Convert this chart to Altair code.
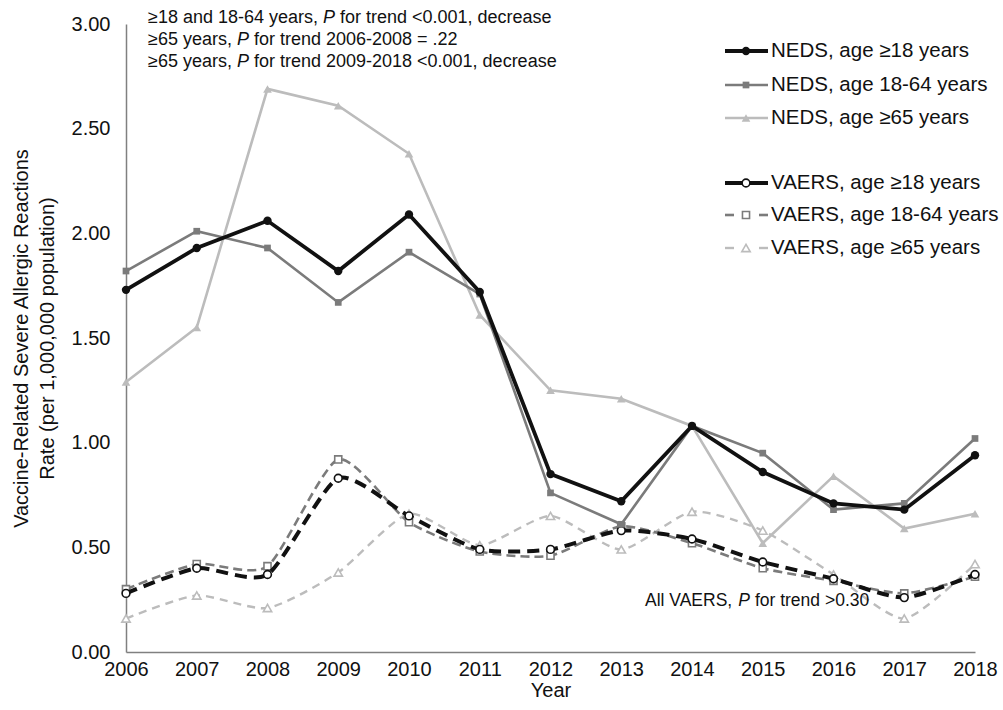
import altair as alt
import pandas as pd

# ---- data: rate per 1,000,000 population ----
years = list(range(2006, 2019))
neds_18plus = [1.73, 1.93, 2.06, 1.82, 2.09, 1.72, 0.85, 0.72, 1.08, 0.86, 0.71, 0.68, 0.94]
neds_18_64 = [1.82, 2.01, 1.93, 1.67, 1.91, 1.71, 0.76, 0.61, 1.08, 0.95, 0.68, 0.71, 1.02]
neds_65plus = [1.29, 1.55, 2.69, 2.61, 2.38, 1.61, 1.25, 1.21, 1.08, 0.52, 0.84, 0.59, 0.66]
vaers_18plus = [0.28, 0.40, 0.37, 0.83, 0.65, 0.49, 0.49, 0.58, 0.54, 0.43, 0.35, 0.26, 0.37]
vaers_18_64 = [0.30, 0.42, 0.41, 0.92, 0.62, 0.48, 0.46, 0.60, 0.52, 0.40, 0.34, 0.28, 0.36]
vaers_65plus = [0.16, 0.27, 0.21, 0.38, 0.66, 0.51, 0.65, 0.49, 0.67, 0.58, 0.37, 0.16, 0.42]

y_ticks = [0.0, 0.5, 1.0, 1.5, 2.0, 2.5, 3.0]

series_labels = [
    "NEDS, age ≥18 years",
    "NEDS, age 18-64 years",
    "NEDS, age ≥65 years",
    "VAERS, age ≥18 years",
    "VAERS, age 18-64 years",
    "VAERS, age ≥65 years",
]
series_values = [neds_18plus, neds_18_64, neds_65plus, vaers_18plus, vaers_18_64, vaers_65plus]

FONT = "Liberation Sans"
BLACK = "#111111"
DARK = "#7b7b7b"
LIGHT = "#bcbcbc"

# line / marker style per series
styles = [
    dict(color=BLACK, width=3.8, dash=None, shape="circle", size=70, filled=True, smooth=False),
    dict(color=DARK, width=2.6, dash=None, shape="square", size=45, filled=True, smooth=False),
    dict(color=LIGHT, width=2.6, dash=None, shape="triangle-up", size=75, filled=True, smooth=False),
    dict(color=BLACK, width=4.0, dash=[12, 7], shape="circle", size=60, filled=False, smooth=True),
    dict(color=DARK, width=2.6, dash=[9, 5], shape="square", size=50, filled=False, smooth=True),
    dict(color=LIGHT, width=2.4, dash=[8, 6], shape="triangle-up", size=70, filled=False, smooth=True),
]

W, H = 849, 628
dummy = pd.DataFrame({"k": [0]})

x_enc = alt.X(
    "year:Q",
    scale=alt.Scale(domain=[2006, 2018], nice=False, zero=False),
    axis=alt.Axis(values=years, format="d", title="Year", labelPadding=7,
                  labelFlush=False, labelOverlap=False,
                  titleY=38, titleBaseline="middle"),
)
y_enc = alt.Y(
    "rate:Q",
    scale=alt.Scale(domain=[0, 3], nice=False),
    axis=alt.Axis(values=y_ticks, format=".2f",
                  title=["Vaccine-Related Severe Allergic Reactions", "Rate (per 1,000,000 population)"],
                  labelPadding=16, labelFlush=False, labelOverlap=False,
                  titleAngle=-90, titleX=-105, titleY=H / 2,
                  titleAlign="center", titleBaseline="middle", titleLineHeight=26),
)


def point_mark(st):
    if st["filled"]:
        return dict(shape=st["shape"], size=st["size"], filled=True, color=st["color"], opacity=1)
    return dict(shape=st["shape"], size=st["size"], filled=False, fill="white", fillOpacity=1,
                stroke=st["color"], strokeWidth=1.6, opacity=1)


layers = []
# draw VAERS first so NEDS lines sit on top
for idx in [5, 4, 3, 2, 1, 0]:
    st = styles[idx]
    df = pd.DataFrame({"year": years, "rate": series_values[idx], "series": series_labels[idx]})
    line_kw = dict(color=st["color"], strokeWidth=st["width"])
    if st["smooth"]:
        line_kw.update(interpolate="cardinal", tension=0.35)
    if st["dash"]:
        line_kw["strokeDash"] = st["dash"]
    layers.append(alt.Chart(df).mark_line(**line_kw).encode(x=x_enc, y=y_enc))
    layers.append(alt.Chart(df).mark_point(**point_mark(st)).encode(x=x_enc, y=y_enc))

# ---- legend (pixel positions inside plot area) ----
legend_rows_y = [27, 61, 94, 159, 191, 224]
LEG_X0, LEG_X1, LEG_MARK, LEG_TEXT = 599, 642, 620, 645
for i, (lab, st) in enumerate(zip(series_labels, styles)):
    yy = legend_rows_y[i]
    if st["dash"] and i != 3:
        pieces = [(LEG_X0, LEG_X0 + 9), (LEG_X1 - 9, LEG_X1)]
    else:
        pieces = [(LEG_X0, LEG_X1)]
    for a, b in pieces:
        layers.append(
            alt.Chart(dummy).mark_rule(color=st["color"], strokeWidth=st["width"]).encode(
                x=alt.value(a), x2=alt.value(b), y=alt.value(yy)
            )
        )
    layers.append(
        alt.Chart(dummy).mark_point(**point_mark(st)).encode(x=alt.value(LEG_MARK), y=alt.value(yy))
    )
    layers.append(
        alt.Chart(dummy).mark_text(text=lab, align="left", baseline="middle", font=FONT,
                                   fontSize=20.5, color=BLACK).encode(
            x=alt.value(LEG_TEXT), y=alt.value(yy)
        )
    )

# ---- annotations with italic P ----
ADV = {" ": 278, "≥": 549, "a": 556, "n": 556, "d": 556, "-": 333, "y": 500, "e": 556,
       "r": 333, "s": 500, ",": 278, "P": 667, "f": 278, "o": 556, "t": 278, "<": 584,
       ".": 278, "c": 500, "=": 584, "A": 667, "l": 222, "V": 667, "E": 667, "R": 722,
       "S": 667, ">": 584}


def text_width(s, size):
    return sum(ADV.get(ch, 556) for ch in s) * size / 1000.0


def rich_line(segments, x0, y0, size):
    out = []
    x = x0
    for txt, italic in segments:
        stripped = txt.lstrip(" ")
        lead = text_width(txt[: len(txt) - len(stripped)], size)
        if stripped.strip():
            out.append(
                alt.Chart(dummy).mark_text(
                    text=stripped.rstrip(" "), align="left", baseline="middle", font=FONT,
                    fontSize=size, fontStyle="italic" if italic else "normal", color=BLACK,
                ).encode(x=alt.value(x + lead), y=alt.value(y0))
            )
        x += text_width(txt, size)
    return out


ANN = 18
trend_lines = [
    [("≥18 and 18-64 years, ", False), ("P", True), (" for trend <0.001, decrease", False)],
    [("≥65 years, ", False), ("P", True), (" for trend 2006-2008 = .22", False)],
    [("≥65 years, ", False), ("P", True), (" for trend 2009-2018 <0.001, decrease", False)],
]
for i, segs in enumerate(trend_lines):
    layers.extend(rich_line(segs, 22, -6 + 22 * i, ANN))

layers.extend(rich_line([("All VAERS, ", False), ("P", True), (" for trend >0.30", False)], 519, 577, 17.5))

chart = (
    alt.layer(*layers)
    .properties(
        width=W,
        height=H,
        autosize=alt.AutoSizeParams(type="none"),
        padding={"left": 126, "top": 24, "right": 28, "bottom": 58},
        background="white",
    )
    .configure_view(stroke=None)
    .configure_axis(
        grid=False,
        ticks=False,
        domainColor="#808080",
        domainWidth=1.5,
        labelFont=FONT,
        labelFontSize=20,
        labelColor=BLACK,
        titleFont=FONT,
        titleFontSize=20,
        titleFontWeight="normal",
        titleColor=BLACK,
    )
)

chart.save("out.html", embed_options={"renderer": "svg", "actions": False})
